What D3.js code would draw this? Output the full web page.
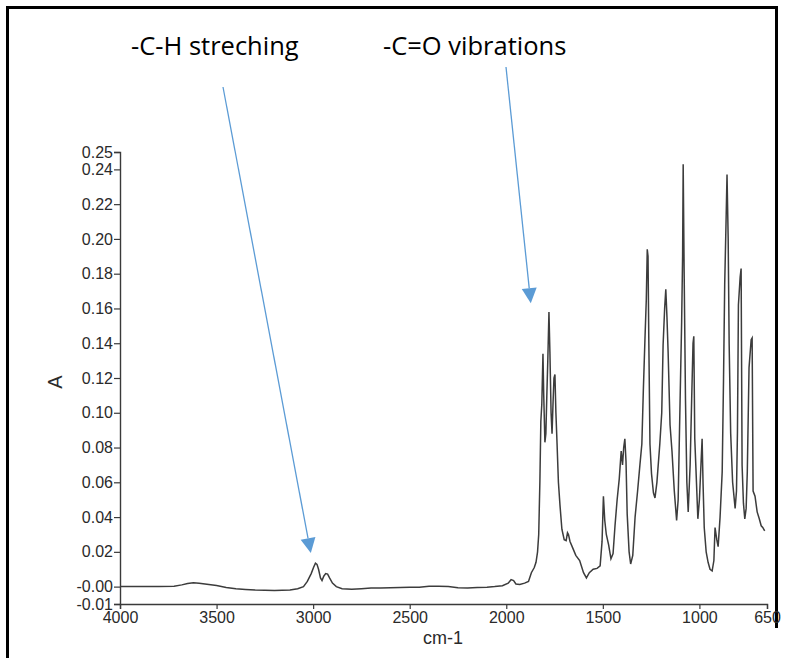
<!DOCTYPE html>
<html>
<head>
<meta charset="utf-8">
<script src="https://cdn.jsdelivr.net/npm/d3@7"></script>
<style>
  body { margin: 0; background: #fff; }
  svg { display: block; }
</style>
</head>
<body>
<svg id="chart" width="785" height="658"></svg>
<script>
// FTIR absorbance spectrum (wavenumber in cm-1, absorbance A)
const wavenumbers = [
  4000, 3900, 3800, 3720, 3680, 3650, 3620, 3590, 3550, 3500, 3450, 3400, 3350, 3300, 3200, 3120, 3080,
  3050, 3030, 3010, 2998, 2988, 2980, 2972, 2962, 2954, 2945, 2935, 2925, 2915, 2900, 2880, 2850, 2800,
  2750, 2700, 2650, 2600, 2550, 2500, 2450, 2400, 2350, 2300, 2250, 2200, 2150, 2100, 2060, 2020, 1990,
  1975, 1962, 1950, 1930, 1905, 1885, 1870, 1855, 1846, 1838, 1832, 1826, 1821, 1816, 1810, 1806, 1800,
  1795, 1790, 1785, 1779, 1774, 1768, 1763, 1758, 1753, 1748, 1743, 1737, 1730, 1722, 1712, 1700, 1690,
  1683, 1678, 1670, 1655, 1640, 1620, 1600, 1585, 1570, 1550, 1530, 1514, 1504, 1497, 1490, 1482, 1470,
  1458, 1447, 1437, 1426, 1415, 1405, 1398, 1392, 1386, 1380, 1374, 1364, 1356, 1345, 1333, 1320, 1308,
  1298, 1290, 1282, 1275, 1270, 1266, 1262, 1256, 1248, 1238, 1230, 1220, 1205, 1195, 1188, 1180, 1174,
  1168, 1162, 1152, 1142, 1130, 1118, 1110, 1100, 1092, 1087, 1084, 1079, 1072, 1065, 1058, 1048, 1040,
  1033, 1029, 1024, 1018, 1008, 1000, 992, 986, 981, 975, 965, 955, 945, 934, 925, 919, 910, 903, 893,
  882, 875, 869, 862, 857, 851, 846, 838, 828, 815, 808, 803, 798, 789, 784, 779, 772, 765, 758, 752,
  743, 732, 727, 722, 712, 701, 690, 680, 672, 662
];
const absorbance = [
  0.0000, 0.0000, 0.0001, 0.0002, 0.0010, 0.0018, 0.0022, 0.0020, 0.0014, 0.0006, -0.0005, -0.0012, -0.0016, -0.0020, -0.0022, -0.0020, -0.0012,
  0.0000, 0.0030, 0.0075, 0.0110, 0.0135, 0.0128, 0.0100, 0.0050, 0.0035, 0.0060, 0.0075, 0.0072, 0.0050, 0.0020, 0.0000, -0.0012, -0.0015,
  -0.0012, -0.0008, -0.0008, -0.0006, -0.0005, -0.0004, -0.0004, 0.0002, 0.0002, 0.0000, -0.0006, -0.0008, -0.0005, -0.0003, 0.0000, 0.0005, 0.0020,
  0.0040, 0.0035, 0.0015, 0.0012, 0.0020, 0.0030, 0.0080, 0.0110, 0.0140, 0.0200, 0.0300, 0.0600, 0.0950, 0.1050, 0.1340, 0.1100, 0.0830,
  0.0880, 0.1100, 0.1300, 0.1580, 0.1350, 0.1000, 0.0880, 0.1050, 0.1200, 0.1220, 0.1000, 0.0820, 0.0600, 0.0470, 0.0330, 0.0270, 0.0265,
  0.0310, 0.0300, 0.0260, 0.0220, 0.0180, 0.0150, 0.0080, 0.0050, 0.0080, 0.0100, 0.0105, 0.0120, 0.0260, 0.0520, 0.0380, 0.0300, 0.0240,
  0.0160, 0.0190, 0.0350, 0.0500, 0.0620, 0.0780, 0.0700, 0.0800, 0.0850, 0.0720, 0.0420, 0.0200, 0.0130, 0.0180, 0.0400, 0.0550, 0.0700,
  0.0820, 0.1140, 0.1420, 0.1650, 0.1940, 0.1900, 0.1420, 0.0820, 0.0650, 0.0540, 0.0510, 0.0600, 0.0820, 0.1000, 0.1390, 0.1600, 0.1710,
  0.1550, 0.1350, 0.0930, 0.0780, 0.0550, 0.0380, 0.0500, 0.1070, 0.1520, 0.1900, 0.2430, 0.1810, 0.1070, 0.0600, 0.0430, 0.0700, 0.1080,
  0.1400, 0.1440, 0.0850, 0.0680, 0.0390, 0.0500, 0.0700, 0.0850, 0.0590, 0.0340, 0.0200, 0.0140, 0.0100, 0.0090, 0.0150, 0.0340, 0.0270, 0.0230, 0.0400,
  0.0660, 0.1200, 0.1740, 0.2100, 0.2370, 0.2000, 0.1400, 0.0880, 0.0600, 0.0450, 0.0550, 0.0890, 0.1620, 0.1780, 0.1830, 0.0700, 0.0480, 0.0390, 0.0450, 0.0660,
  0.1260, 0.1420, 0.1430, 0.0550, 0.0520, 0.0430, 0.0390, 0.0350, 0.0340, 0.0320
];

// Axis ticks as the spectrometer software labels them
const xTicks = [4000, 3500, 3000, 2500, 2000, 1500, 1000, 650];
const yTicks = [-0.01, 0.00, 0.02, 0.04, 0.06, 0.08, 0.10, 0.12, 0.14, 0.16, 0.18, 0.20, 0.22, 0.24, 0.25];
const yTickLabels = ["-0.01", "-0.00", "0.02", "0.04", "0.06", "0.08", "0.10", "0.12", "0.14", "0.16", "0.18", "0.20", "0.22", "0.24", "0.25"];

// Band annotations: label and the (wavenumber, absorbance) the arrow points at
const bandLabels = ["-C-H streching", "-C=O vibrations"];
const bandTargets = [[3012, 0.0193], [1873, 0.163]];

const svg = d3.select("#chart");

// Outer frame
svg.append("path")
  .attr("d", "M7.5,660 L7.5,7.5 L776.5,7.5 L776.5,628")
  .attr("fill", "none")
  .attr("stroke", "#000")
  .attr("stroke-width", 3);

const x = d3.scaleLinear().domain([4000, 650]).range([120, 767]);
const y = d3.scaleLinear().domain([-0.01, 0.25]).range([604, 152]);

const axisColor = "#3a3a3a";
const labelFont = "'Liberation Sans', Arial, sans-serif";

// Y axis
const yAxis = svg.append("g")
  .attr("transform", "translate(120,0)")
  .call(d3.axisLeft(y)
    .tickValues(yTicks)
    .tickSize(6)
    .tickPadding(1)
    .tickFormat((d, i) => yTickLabels[i]));

// X axis
const xAxis = svg.append("g")
  .attr("transform", "translate(0,604)")
  .call(d3.axisBottom(x)
    .tickValues(xTicks)
    .tickSize(5)
    .tickPadding(3)
    .tickFormat(d3.format("d")));

[yAxis, xAxis].forEach(g => {
  g.select(".domain").attr("stroke", axisColor).attr("stroke-width", 1.4);
  g.selectAll(".tick line").attr("stroke", axisColor).attr("stroke-width", 1.2);
  g.selectAll(".tick text")
    .attr("fill", "#2a2a2a")
    .style("font-family", labelFont)
    .style("font-size", "16px");
});

// Axis titles
svg.append("text")
  .attr("transform", "translate(62,382) rotate(-90)")
  .attr("text-anchor", "middle")
  .style("font-family", labelFont)
  .style("font-size", "20px")
  .attr("fill", "#2a2a2a")
  .text("A");

svg.append("text")
  .attr("x", 443)
  .attr("y", 644)
  .attr("text-anchor", "middle")
  .style("font-family", labelFont)
  .style("font-size", "18px")
  .attr("fill", "#2a2a2a")
  .text("cm-1");

// Spectrum trace
const spectrum = wavenumbers.map((w, i) => [w, absorbance[i]]);
svg.append("path")
  .datum(spectrum)
  .attr("fill", "none")
  .attr("stroke", "#3c3c3c")
  .attr("stroke-width", 1.5)
  .attr("stroke-linejoin", "miter")
  .attr("d", d3.line().x(d => x(d[0])).y(d => y(d[1])));

// Band annotations with arrows
const labelPos = [[131, 55], [383, 55]];
const tailPos = [[223, 87], [506, 67]];
const arrowBlue = "#5b9bd5";

bandLabels.forEach((label, i) => {
  svg.append("text")
    .attr("x", labelPos[i][0])
    .attr("y", labelPos[i][1])
    .style("font-family", "'Open Sans', Lato, sans-serif")
    .style("font-size", "25.5px")
    .attr("fill", "#000")
    .text(label);

  const [tx, ty] = tailPos[i];
  const hx = x(bandTargets[i][0]);
  const hy = y(bandTargets[i][1]);
  const dx = hx - tx, dy = hy - ty;
  const len = Math.hypot(dx, dy);
  const ux = dx / len, uy = dy / len;
  const headLen = 15, headHalf = 7.5;
  const bx = hx - ux * headLen, by = hy - uy * headLen;

  svg.append("line")
    .attr("x1", tx).attr("y1", ty)
    .attr("x2", bx).attr("y2", by)
    .attr("stroke", arrowBlue)
    .attr("stroke-width", 1.3);

  svg.append("path")
    .attr("d", `M${hx},${hy} L${bx - uy * headHalf},${by + ux * headHalf} L${bx + uy * headHalf},${by - ux * headHalf} Z`)
    .attr("fill", arrowBlue);
});
</script>
</body>
</html>
